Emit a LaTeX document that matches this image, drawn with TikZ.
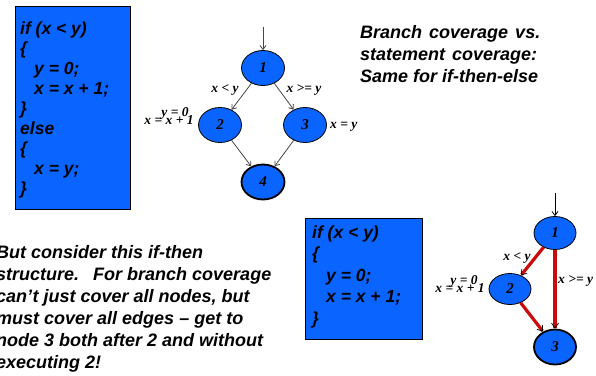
\documentclass[tikz,border=0pt]{standalone}
\usepackage{fontspec}
\setmainfont{Liberation Sans}
\newfontfamily\tms{Liberation Serif}
\usetikzlibrary{shapes.geometric,arrows.meta}
\definecolor{nodeblue}{RGB}{10,100,255}
\definecolor{edgered}{RGB}{205,10,10}
\definecolor{edgegray}{RGB}{70,70,70}
\begin{document}
\begin{tikzpicture}[x=1pt,y=-1pt,
  codebox/.style={draw=black, fill=nodeblue, line width=0.8pt, anchor=north west, inner sep=0},
  codetxt/.style={font=\bfseries\itshape\fontsize{17.5}{20}\selectfont, align=left, inner sep=0, anchor=base west},
  prose/.style={font=\bfseries\itshape\fontsize{18}{22}\selectfont, align=left, inner sep=0, anchor=base west},
  gnode/.style={ellipse, draw=black, fill=nodeblue, line width=0.8pt, minimum width=43pt, minimum height=35pt, inner sep=0, font=\tms\bfseries\itshape\fontsize{15}{15}\selectfont},
  endnode/.style={gnode, line width=1.8pt},
  gedge/.style={draw=edgegray, line width=0.8pt, -{Straight Barb[length=4pt,width=6pt]}},
  redge/.style={draw=edgered, line width=3.2pt, -{Straight Barb[color=black,line width=0.7pt,length=5pt,width=7pt]}},
  lbl/.style={font=\tms\bfseries\itshape\fontsize{13.5}{13.5}\selectfont, inner sep=0, anchor=base}
]
\useasboundingbox (0,0) rectangle (596,375);

% ---- code box 1 (anchor = baseline of last line)
\node[codebox, minimum width=115pt, minimum height=203pt] (box1) at (15,6) {};
\node[codetxt] (code1) at (20,194) {if (x < y)\\
\{\\
\hspace*{14pt}y = 0;\\
\hspace*{14pt}x = x + 1;\\
\}\\
else\\
\{\\
\hspace*{14pt}x = y;\\
\}};

% ---- graph 1
\coordinate (s1) at (263,27);
\node[gnode] (a1) at (263,68) {1};
\node[gnode] (a2) at (220,125) {2};
\node[gnode] (a3) at (305,125) {3};
\node[endnode] (a4) at (263,182) {4};
\draw[gedge] (s1) -- (a1);
\draw[gedge] (a1) -- (a2);
\draw[gedge] (a1) -- (a3);
\draw[gedge] (a2) -- (a4);
\draw[gedge] (a3) -- (a4);
\node[lbl] (l12) at (225,92) {x < y};
\node[lbl] (l13) at (304,92) {x >= y};
\node[lbl] (l2a) at (175,116) {y = 0};
\node[lbl] (l2b) at (169,124) {x = x + 1};
\node[lbl, anchor=base west] (l3) at (330,128) {x = y};

% ---- top right text
\node[prose] (t1) at (360,82) {Branch\hspace{7pt}coverage\hspace{7pt}vs.\\
statement\hspace{7pt}coverage:\\
Same for if-then-else};

% ---- bottom left text
\node[prose] (t2) at (-4,368) {But consider\ this\ if-then\\
structure.\hspace*{14pt}For branch\ coverage\\
can’t just\ cover\ all nodes,\ but\\
must\ cover\ all edges\ – get to\\
node 3 both after 2 and without\\
executing\ 2!};

% ---- code box 2
\node[codebox, minimum width=117pt, minimum height=121pt] (box2) at (305,218) {};
\node[codetxt, font=\bfseries\itshape\fontsize{17.5}{21.5}\selectfont] (code2) at (312,324) {if (x < y)\\
\{\\
\hspace*{14pt}y = 0;\\
\hspace*{14pt}x = x + 1;\\
\}};

% ---- graph 2
\coordinate (s2) at (555,193);
\node[gnode, minimum width=42pt, minimum height=33pt] (b1) at (555,233) {1};
\node[gnode, minimum width=42pt, minimum height=31pt] (b2) at (510,289) {2};
\node[endnode, minimum width=42pt, minimum height=35pt] (b3) at (555,347) {3};
\draw[gedge, draw=black] (s2) -- (b1);
\draw[redge] (b1) -- (b2);
\draw[redge] (b2) -- (b3);
\draw[redge] (b1) -- (b3);
\node[lbl] (m12) at (517,260) {x < y};
\node[lbl, anchor=base west] (m13) at (558,283) {x >= y};
\node[lbl] (m2a) at (464,284) {y = 0};
\node[lbl] (m2b) at (460,292) {x = x + 1};
\end{tikzpicture}
\end{document}
